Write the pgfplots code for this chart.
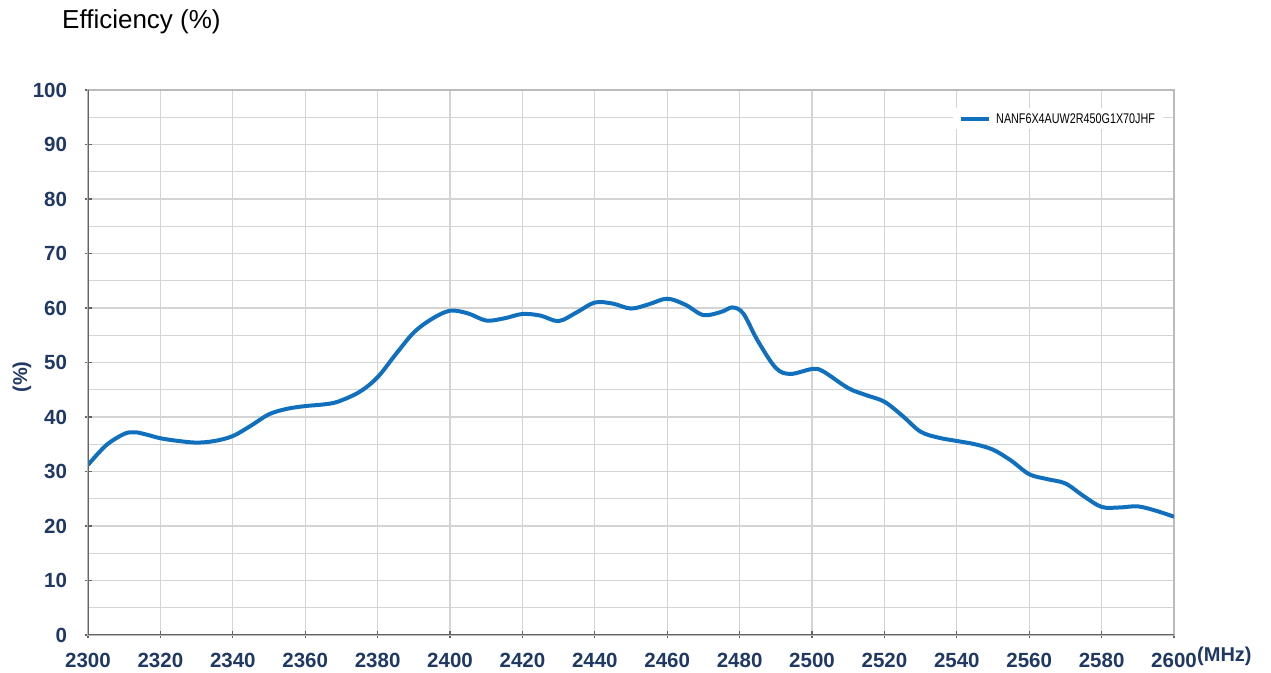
\documentclass[border=0pt]{standalone}
\usepackage{fontspec}
\setmainfont{Liberation Sans}
\usepackage{pgfplots}
\pgfplotsset{compat=1.18}
\definecolor{navy}{RGB}{31,56,100}
\definecolor{curve}{RGB}{16,112,190}
\definecolor{gridc}{RGB}{212,212,212}
\definecolor{axc}{RGB}{100,100,100}
\begin{document}
\begin{tikzpicture}[x=1bp,y=1bp]
\useasboundingbox (0,0) rectangle (1271,673);
\node[anchor=base west, inner sep=0pt, font=\fontsize{26bp}{30bp}\selectfont] at (62,644) {Efficiency (\%)};
\begin{axis}[
  at={(88bp,38bp)}, anchor=south west,
  scale only axis, width=1086bp, height=545bp,
  xmin=2300, xmax=2600, ymin=0, ymax=100,
  xtick={2300,2320,...,2600}, ytick={0,10,...,100},
  minor y tick num=1,
  grid=both,
  major grid style={gridc, line width=1.3bp},
  minor grid style={gridc, line width=1.3bp},
  axis line style={draw=gridc!70!gray, line width=1.2bp},
  tick pos=left, tick align=center,
  major tick length=7bp, minor tick length=0pt,
  every tick/.style={axc, line width=1.2bp},
  /pgf/number format/assume math mode=true,
  /pgf/number format/1000 sep={},
  tick label style={font=\fontsize{20.5bp}{24bp}\selectfont\bfseries, text=navy},
  xticklabel style={yshift=-11bp},
  yticklabel style={xshift=-14bp},
  legend style={draw=none, fill=white, at={(rel axis cs:0.99,0.947)}, anchor=east,
    font=\fontsize{14bp}{16bp}\selectfont, inner xsep=6bp, inner ysep=3bp},
  legend cell align=left,
  legend image code/.code={\draw[#1] (0bp,0bp) -- (28bp,0bp);},
]
\addplot[curve, line width=4bp, smooth, tension=0.55] coordinates {
(2300,31.2) (2305,34.8) (2310,36.9) (2313,37.2) (2316,36.8) (2320,36.1)
(2325,35.6) (2330,35.3) (2335,35.6) (2340,36.5) (2345,38.4) (2350,40.5)
(2355,41.5) (2360,42.0) (2365,42.3) (2369,42.8) (2375,44.6) (2380,47.3)
(2385,51.5) (2390,55.5) (2395,58.0) (2400,59.5) (2405,59.0) (2410,57.7)
(2415,58.1) (2420,58.9) (2425,58.6) (2430,57.6) (2435,59.2) (2440,61.0)
(2445,60.8) (2450,59.9) (2455,60.7) (2460,61.7) (2465,60.6) (2470,58.7)
(2475,59.3) (2478,60.1) (2481,59.0) (2485,54.0) (2490,49.0) (2494,47.9)
(2500,48.8) (2503,48.4) (2510,45.3) (2515,44.0) (2520,42.8) (2525,40.2)
(2530,37.3) (2535,36.2) (2540,35.6) (2545,35.0) (2550,34.0) (2555,32.0)
(2560,29.5) (2565,28.6) (2570,27.8) (2575,25.5) (2580,23.5) (2585,23.4)
(2590,23.6) (2595,22.8) (2600,21.7)
};
\addlegendentry{\hspace{3bp}\scalebox{0.77}[1]{NANF6X4AUW2R450G1X70JHF}}
\draw[axc, line width=2bp] (rel axis cs:0,1) -- (rel axis cs:0,0) -- (rel axis cs:1,0);
\end{axis}
\node[rotate=90, font=\fontsize{20bp}{24bp}\selectfont\bfseries, text=navy] at (22,296) {(\%)};
\node[anchor=base west, inner sep=0pt, font=\fontsize{20bp}{24bp}\selectfont\bfseries, text=navy] at (1197,11) {(MHz)};
\end{tikzpicture}
\end{document}
